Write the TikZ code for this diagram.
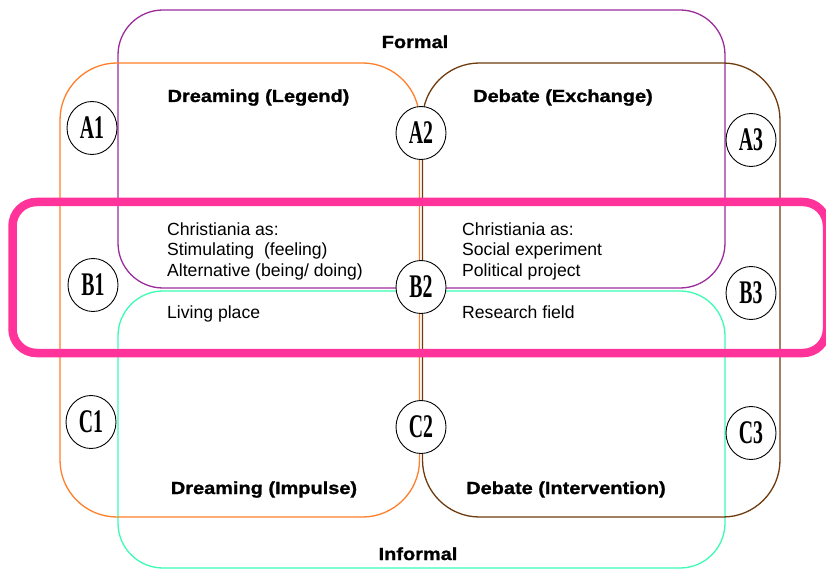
\documentclass[tikz,border=0pt]{standalone}
\usepackage{fontspec}
\setmainfont{Liberation Sans}
\newfontfamily\hdfont{Liberation Sans Bold}[FakeStretch=1.14,FakeBold=1.2]
\newfontfamily\cfont{Liberation Serif Bold}[FakeStretch=0.6]
\usetikzlibrary{shapes.geometric}
\definecolor{cpurple}{HTML}{9B2D9B}
\definecolor{corange}{HTML}{FF7F2A}
\definecolor{cbrown}{HTML}{6E3B0E}
\definecolor{ccyan}{HTML}{3CFCB4}
\definecolor{cpink}{HTML}{FF3399}
\tikzset{
  zone/.style={line width=1.3pt, rounded corners=45pt},
  hdr/.style={anchor=base, inner sep=0pt, font=\hdfont\fontsize{17.5}{20}\selectfont},
  body/.style={anchor=base west, inner sep=0pt, font=\fontsize{17.6}{20.5}\selectfont},
  cell/.style={shape=ellipse, draw=black, line width=0.9pt, fill=white, minimum width=50pt, minimum height=53pt, inner sep=0pt, font=\cfont\fontsize{33}{33}\selectfont}
}
\begin{document}
\begin{tikzpicture}[x=1pt,y=-1pt]
\useasboundingbox (0,0) rectangle (826,569);
% big zones
\draw[zone, cpurple] (118,10) rectangle (725,288);
\draw[zone, ccyan] (118,291) rectangle (725,568);
\draw[zone, corange, rounded corners=57pt] (60,63) rectangle (419.5,517);
\draw[zone, cbrown, rounded corners=57pt] (422.5,63) rectangle (780,517);
% pink band
\draw[cpink, line width=8.5pt, rounded corners=24pt] (12.5,202) rectangle (827,353);
% headings
\node[hdr] (formal) at (415,48) {Formal};
\node[hdr] (informal) at (418,560) {Informal};
\node[hdr] (dleg) at (258.5,102) {Dreaming (Legend)};
\node[hdr] (dexc) at (563,102) {Debate (Exchange)};
\node[hdr] (dimp) at (264,494) {Dreaming (Impulse)};
\node[hdr] (dint) at (566,494) {Debate (Intervention)};
% body text
\node[body] (l1) at (167,235) {Christiania as:};
\node[body] (l2) at (167,255.5) {Stimulating\ \ (feeling)};
\node[body] (l3) at (167,276) {Alternative (being/ doing)};
\node[body] (l4) at (167,318) {Living place};
\node[body] (r1) at (462,235) {Christiania as:};
\node[body] (r2) at (462,255.5) {Social experiment};
\node[body] (r3) at (462,276) {Political project};
\node[body] (r4) at (462,318) {Research field};
% cells
\node[cell] (A1) at (92,128) {A1};
\node[cell] (A2) at (421,133) {A2};
\node[cell] (A3) at (751,140) {A3};
\node[cell] (B1) at (93,285) {B1};
\node[cell] (B2) at (421,287) {B2};
\node[cell] (B3) at (751,293) {B3};
\node[cell] (C1) at (91,422) {C1};
\node[cell] (C2) at (421,427) {C2};
\node[cell] (C3) at (751,433) {C3};
\end{tikzpicture}
\end{document}
